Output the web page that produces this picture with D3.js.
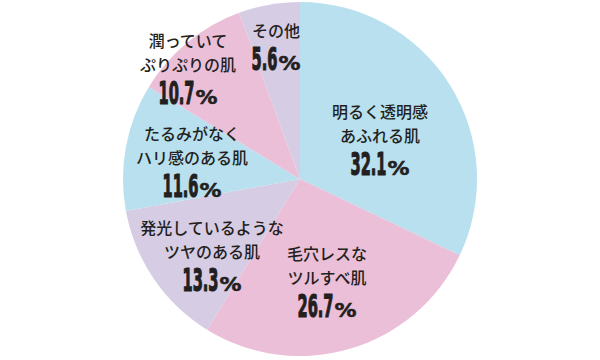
<!DOCTYPE html>
<html>
<head>
<meta charset="utf-8">
<script src="https://cdn.jsdelivr.net/npm/d3@7"></script>
<style>
  html, body { margin: 0; padding: 0; background: #fff; }
  svg { display: block; }
</style>
</head>
<body>
<svg id="chart" width="600" height="360"></svg>
<script>
// ---- data ----
const categories = [
  "明るく透明感あふれる肌",
  "毛穴レスなツルすべ肌",
  "発光しているようなツヤのある肌",
  "たるみがなくハリ感のある肌",
  "潤っていてぷりぷりの肌",
  "その他"
];
const labelLines = [
  ["明るく透明感", "あふれる肌"],
  ["毛穴レスな", "ツルすべ肌"],
  ["発光しているような", "ツヤのある肌"],
  ["たるみがなく", "ハリ感のある肌"],
  ["潤っていて", "ぷりぷりの肌"],
  ["その他"]
];
const values = [32.1, 26.7, 13.3, 11.6, 10.7, 5.6];

// ---- layout / style ----
const W = 600, H = 360;
const cx = 300, cy = 179, R = 177;
const sliceColors = ["#b8e0ee", "#ecbfd8", "#d6cce4", "#b8e0ee", "#ecbfd8", "#d6cce4"];
// label anchor (center x, first baseline) relative to pie center
const labelOffsets = [[80, -61], [27, 81], [-88, 55], [-108, -39], [-112, -132], [-24, -142]];
const lineGap = 24, pctGap = 33;
const textColor = "#231f20";

const svg = d3.select("#chart");
const g = svg.append("g").attr("transform", `translate(${cx},${cy})`);

const pie = d3.pie().sort(null).value(d => d)
  .startAngle(0).endAngle(2 * Math.PI);
const arcs = pie(values);
const arc = d3.arc().innerRadius(0).outerRadius(R);
const color = d3.scaleOrdinal().domain(d3.range(values.length)).range(sliceColors);

g.selectAll("path.slice")
  .data(arcs)
  .join("path")
  .attr("class", "slice")
  .attr("d", arc)
  .attr("fill", (d, i) => color(i));

// labels
const labels = g.selectAll("g.label")
  .data(arcs)
  .join("g")
  .attr("class", "label")
  .attr("transform", (d, i) => `translate(${labelOffsets[i][0]},${labelOffsets[i][1]})`);

labels.each(function(d, i) {
  const lg = d3.select(this);
  const lines = labelLines[i];
  lines.forEach((t, j) => {
    lg.append("text")
      .attr("x", 0)
      .attr("y", j * lineGap)
      .attr("text-anchor", "middle")
      .attr("font-family", "'Noto Sans CJK JP', 'Noto Sans CJK SC', sans-serif")
      .attr("font-weight", 500)
      .attr("font-size", 16)
      .attr("fill", textColor)
      .text(t);
  });
  const py = (lines.length - 1) * lineGap + pctGap;
  const numStr = values[i].toFixed(1);
  const pg = lg.append("g").attr("transform", `translate(0,${py})`);
  const num = pg.append("text")
    .attr("font-family", "'DejaVu Sans Condensed', 'DejaVu Sans', sans-serif")
    .attr("font-stretch", "condensed")
    .attr("font-weight", "bold")
    .attr("font-size", 32)
    .attr("fill", textColor)
    .attr("stroke", textColor)
    .attr("stroke-width", 1.2)
    .attr("stroke-linejoin", "round")
    .text(numStr);
  const w = num.node().getComputedTextLength();
  // target condensed width: digits ~10.2px, period ~5.5px
  const digits = numStr.replace(".", "").length;
  const target = digits * 10.2 + 5.5;
  const sx = target / w;
  const pct = pg.append("text")
    .attr("font-family", "'DejaVu Sans', sans-serif")
    .attr("font-weight", "bold")
    .attr("font-size", 19)
    .attr("fill", textColor)
    .attr("stroke", textColor)
    .attr("stroke-width", 0.5)
    .text("%");
  const pw = pct.node().getComputedTextLength();
  const pTarget = 22;
  const psx = pTarget / pw;
  const gap = 1;
  const total = target + gap + pTarget;
  const start = -total / 2;
  num.attr("transform", `translate(${start},0) scale(${sx},1)`);
  pct.attr("transform", `translate(${start + target + gap},0) scale(${psx},1)`);
});
</script>
</body>
</html>
